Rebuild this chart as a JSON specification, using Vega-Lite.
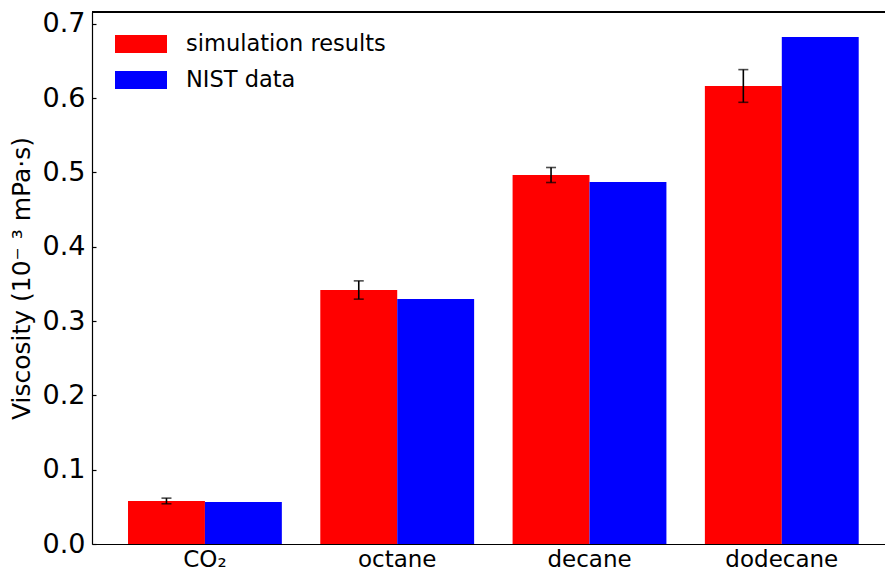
{
  "$schema": "https://vega.github.io/schema/vega-lite/v6.json",
  "width": 793,
  "height": 532,
  "autosize": "none",
  "padding": {"left": 92, "top": 12, "right": 0, "bottom": 29},
  "background": "white",
  "config": {
    "view": {"stroke": null},
    "font": "DejaVu Sans",
    "axis": {
      "domainColor": "black",
      "domainWidth": 1.2,
      "tickColor": "black",
      "labelColor": "black",
      "titleColor": "black",
      "labelFont": "DejaVu Sans",
      "titleFont": "DejaVu Sans",
      "labelFontSize": 23,
      "titleFontSize": 25,
      "titleFontWeight": "normal",
      "grid": false
    },
    "legend": {
      "labelFont": "DejaVu Sans",
      "labelFontSize": 22.5,
      "labelColor": "black",
      "labelLimit": 0
    }
  },
  "data": {
    "values": [
      {"fluid": "CO₂", "series": "simulation results", "viscosity": 0.0579, "lo": 0.0541, "hi": 0.0617},
      {"fluid": "CO₂", "series": "NIST data", "viscosity": 0.0565},
      {"fluid": "octane", "series": "simulation results", "viscosity": 0.3417, "lo": 0.3294, "hi": 0.354},
      {"fluid": "octane", "series": "NIST data", "viscosity": 0.3296},
      {"fluid": "decane", "series": "simulation results", "viscosity": 0.4964, "lo": 0.4863, "hi": 0.5065},
      {"fluid": "decane", "series": "NIST data", "viscosity": 0.487},
      {"fluid": "dodecane", "series": "simulation results", "viscosity": 0.6162, "lo": 0.5942, "hi": 0.6382},
      {"fluid": "dodecane", "series": "NIST data", "viscosity": 0.682}
    ]
  },
  "layer": [
    {
      "mark": {"type": "bar"},
      "encoding": {
        "x": {
          "field": "fluid",
          "type": "nominal",
          "sort": ["CO₂", "octane", "decane", "dodecane"],
          "scale": {"paddingInner": 0.2, "paddingOuter": 0.162, "align": 0.578},
          "axis": {"title": null, "ticks": false, "labelAngle": 0, "labelPadding": 4}
        },
        "xOffset": {
          "field": "series",
          "type": "nominal",
          "sort": ["simulation results", "NIST data"],
          "scale": {"paddingInner": 0, "paddingOuter": 0}
        },
        "y": {
          "field": "viscosity",
          "type": "quantitative",
          "scale": {"domain": [0, 0.7157], "nice": false, "zero": true},
          "axis": {
            "title": "Viscosity (10⁻ ³ mPa·s)",
            "values": [0, 0.1, 0.2, 0.3, 0.4, 0.5, 0.6, 0.7],
            "format": ".1f",
            "labelFontSize": 27,
            "tickSize": -4,
            "tickWidth": 1.2,
            "labelPadding": 11,
            "titlePadding": 8
          }
        },
        "color": {
          "field": "series",
          "type": "nominal",
          "sort": ["simulation results", "NIST data"],
          "scale": {"domain": ["simulation results", "NIST data"], "range": ["#ff0000", "#0000ff"]},
          "legend": {
            "title": null,
            "orient": "none",
            "legendX": 36,
            "legendY": 19,
            "padding": 0,
            "symbolType": "M-2,-0.69H2V0.69H-2Z",
            "symbolSize": 676,
            "symbolStrokeWidth": 0,
            "labelOffset": 32,
            "rowPadding": 11
          }
        }
      }
    },
    {
      "transform": [{"filter": "datum.hi != null"}],
      "mark": {"type": "rule", "color": "black", "strokeWidth": 1.6},
      "encoding": {
        "x": {"field": "fluid", "type": "nominal", "sort": ["CO₂", "octane", "decane", "dodecane"]},
        "xOffset": {"field": "series", "type": "nominal", "sort": ["simulation results", "NIST data"]},
        "y": {"field": "lo", "type": "quantitative"},
        "y2": {"field": "hi"}
      }
    },
    {
      "transform": [{"filter": "datum.hi != null"}],
      "mark": {"type": "tick", "color": "black", "thickness": 1.6, "size": 10, "orient": "horizontal"},
      "encoding": {
        "x": {"field": "fluid", "type": "nominal", "sort": ["CO₂", "octane", "decane", "dodecane"]},
        "xOffset": {"field": "series", "type": "nominal", "sort": ["simulation results", "NIST data"]},
        "y": {"field": "hi", "type": "quantitative"}
      }
    },
    {
      "transform": [{"filter": "datum.hi != null"}],
      "mark": {"type": "tick", "color": "black", "thickness": 1.6, "size": 10, "orient": "horizontal"},
      "encoding": {
        "x": {"field": "fluid", "type": "nominal", "sort": ["CO₂", "octane", "decane", "dodecane"]},
        "xOffset": {"field": "series", "type": "nominal", "sort": ["simulation results", "NIST data"]},
        "y": {"field": "lo", "type": "quantitative"}
      }
    },
    {
      "mark": {"type": "rule", "color": "black", "strokeWidth": 1.2},
      "encoding": {"y": {"datum": 0.7157}}
    }
  ]
}
